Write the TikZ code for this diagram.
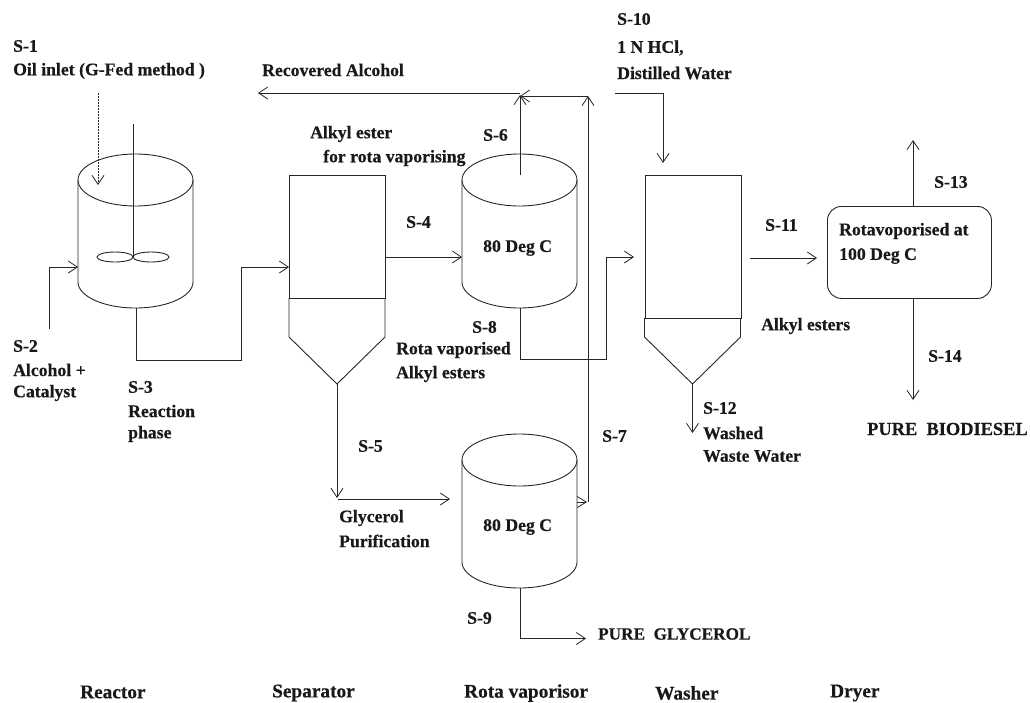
\documentclass[tikz,border=0pt]{standalone}
\usepackage{fontspec}
\setmainfont[BoldFeatures={FakeBold=0.5}]{Liberation Serif}
\usetikzlibrary{arrows.meta}
\tikzset{
 x=1pt,y=-1pt,
 ln/.style={draw=black!85,line width=0.9pt},
 flow/.style={ln,-{Straight Barb[length=9pt,width=12pt,line width=0.8pt]}},
 lbl/.style={font=\bfseries\fontsize{17.7}{20}\selectfont,anchor=west,inner sep=0pt,align=left,text=black!90},
 small/.style={font=\bfseries\fontsize{19.3}{20}\selectfont,anchor=west,inner sep=0pt,align=left,text=black!90},
}
\newcommand{\cyl}[3]{% left x, top-ellipse centre y, bottom-ellipse centre y
 \draw[ln] (#1+57.5,#2) ellipse [x radius=57.5,y radius=26];
 \draw[ln] (#1,#2) -- (#1,#3) arc [start angle=180,end angle=0,x radius=57.5,y radius=26] -- (#1+115,#2);
}
\begin{document}
\begin{tikzpicture}
\useasboundingbox (0,0) rectangle (1030,702);
% vessels
\cyl{78}{180}{282}
\cyl{462}{180}{282}
\cyl{462}{460}{562}
% reactor internals
\coordinate (shaftT) at (133,124);
\coordinate (shaftB) at (133,257);
\draw[ln] (shaftT) -- (shaftB);
\draw[ln] (115,257) ellipse [x radius=18,y radius=5];
\draw[ln] (151,257) ellipse [x radius=18,y radius=5];
\coordinate (oilS) at (98,93);
\coordinate (oilE) at (98,185);
\draw[flow,dash pattern=on 2pt off 1pt] (oilS) -- (oilE);
% separator
\node[ln,draw,minimum width=96pt,minimum height=123.5pt,inner sep=0,anchor=north west] (sep) at (289,174.5) {};
\coordinate (sepL) at (289,298);
\coordinate (sepR) at (385,298);
\coordinate (sepTip) at (337,384);
\draw[ln] (sepL) -- (289,337) -- (sepTip) -- (385,337) -- (sepR);
% washer
\node[ln,draw,minimum width=96pt,minimum height=143.5pt,inner sep=0,anchor=north west] (was) at (644.5,174.5) {};
\coordinate (wasL) at (644.5,318);
\coordinate (wasR) at (740.5,318);
\coordinate (wasTip) at (692.5,384);
\draw[ln] (wasL) -- (644.5,337) -- (wasTip) -- (740.5,337) -- (wasR);
% dryer
\node[ln,draw,rounded corners=14pt,minimum width=164pt,minimum height=92pt,inner sep=0,anchor=north west] (dry) at (827,206) {};
% flows
\draw[flow] (49,329) |- (78,267);
\draw[flow] (136,308) |- (241,360) |- (289,267);
\draw[flow] (385,257) -- (462,257);
\draw[flow] (520,175) -- (520,95);
\draw[flow] (588,96) -- (520,96);
\draw[flow] (520,93) -- (258,93);
\draw[flow] (520,308) |- (606,359.5) |- (634,257);
\draw[flow] (588,502) -- (588,96);
\draw[ln,-{Straight Barb[length=9pt,width=11pt,line width=0.8pt]}] (577,502) -- (587,502);
\draw[flow] (337,384) -- (337,498);
\draw[flow] (338,499) -- (450,499);
\draw[flow] (520,588) |- (586,638.5);
\draw[flow] (615,93) -| (663,163);
\draw[flow] (692.5,384) -- (692.5,433);
\draw[flow] (750,258) -- (817,258);
\draw[flow] (913,206) -- (913,140);
\draw[flow] (913,298) -- (913,400);
% labels
\node[lbl] (t1) at (13,46) {S-1};
\node[lbl] (t1b) at (13,71) {Oil inlet (G-Fed method )};
\node[lbl] (t2) at (262,70) {Recovered Alcohol};
\node[lbl] (t3) at (310,134) {Alkyl ester};
\node[lbl] (t4) at (323,158) {for rota vaporising};
\node[lbl] (t5) at (406,222) {S-4};
\node[lbl] (t6) at (483,135) {S-6};
\node[lbl] (t7) at (483,248) {80 Deg C};
\node[lbl] (t8) at (472,327) {S-8};
\node[lbl] (t9) at (396,350) {Rota vaporised};
\node[lbl] (t10) at (396,374) {Alkyl esters};
\node[lbl] (t11) at (617,19) {S-10};
\node[lbl] (t12) at (617,48) {1 N HCl,};
\node[lbl] (t13) at (617,73) {Distilled Water};
\node[lbl] (t14) at (13,346) {S-2};
\node[lbl] (t15) at (13,370) {Alcohol +};
\node[lbl] (t16) at (13,393) {Catalyst};
\node[lbl] (t17) at (128,387) {S-3};
\node[lbl] (t18) at (128,411) {Reaction};
\node[lbl] (t19) at (128,434) {phase};
\node[lbl] (t20) at (358,446) {S-5};
\node[lbl] (t21) at (339,518) {Glycerol};
\node[lbl] (t22) at (339,541) {Purification};
\node[lbl] (t23) at (483,527) {80 Deg C};
\node[lbl] (t24) at (467,618) {S-9};
\node[lbl,font=\bfseries\fontsize{17.2}{20}\selectfont] (t25) at (598,634) {PURE\ \ GLYCEROL};
\node[lbl] (t26) at (602,436) {S-7};
\node[lbl] (t27) at (703,408) {S-12};
\node[lbl] (t28) at (703,433) {Washed};
\node[lbl] (t29) at (703,456) {Waste Water};
\node[lbl] (t30) at (765,225) {S-11};
\node[lbl] (t31) at (761,326) {Alkyl esters};
\node[lbl] (t32) at (934,182) {S-13};
\node[lbl] (t33) at (928,356) {S-14};
\node[lbl] (t34) at (839,231) {Rotavoporised at};
\node[lbl] (t35) at (839,256) {100 Deg C};
\node[lbl,font=\bfseries\fontsize{18.4}{20}\selectfont] (t36) at (867,429) {PURE\ \ BIODIESEL};
\node[small] (t37) at (80,692) {Reactor};
\node[small] (t38) at (272,693) {Separator};
\node[small] (t39) at (464,693) {Rota vaporisor};
\node[small] (t40) at (655,693) {Washer};
\node[small] (t41) at (830,693) {Dryer};
\end{tikzpicture}
\end{document}
